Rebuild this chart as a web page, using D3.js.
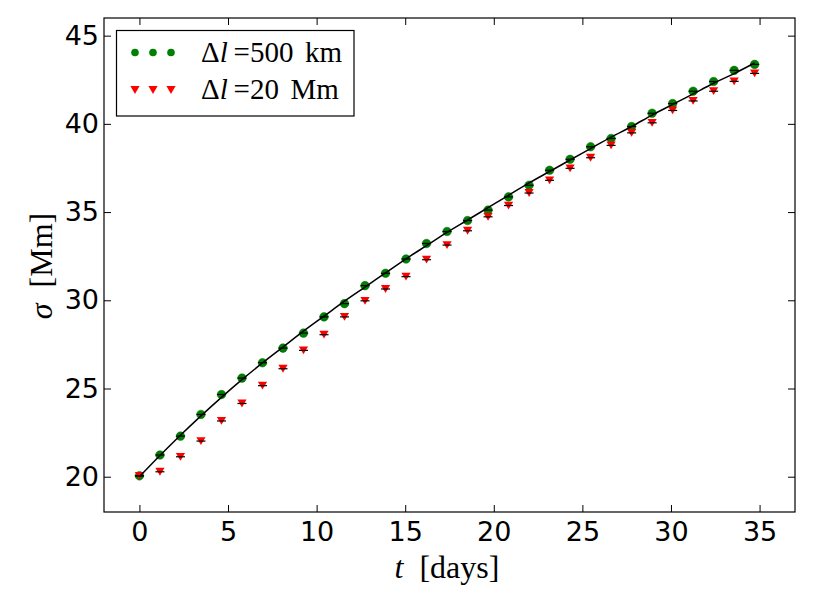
<!DOCTYPE html>
<html>
<head>
<meta charset="utf-8">
<script src="https://cdn.jsdelivr.net/npm/d3@7"></script>
<style>
  html, body { margin: 0; padding: 0; background: #fff; }
  svg { display: block; }
</style>
</head>
<body>
<svg id="chart" width="813" height="613"></svg>
<script>
// ---- data ----
const times = [0, 1.157, 2.315, 3.472, 4.63, 5.787, 6.944, 8.102, 9.259, 10.417, 11.574,
  12.731, 13.889, 15.046, 16.204, 17.361, 18.519, 19.676, 20.833, 21.991, 23.148,
  24.306, 25.463, 26.62, 27.778, 28.935, 30.093, 31.25, 32.407, 33.565, 34.722];
const sigma500km = [20.05, 21.23, 22.30, 23.53, 24.66, 25.59, 26.46, 27.29, 28.14, 29.06, 29.81,
  30.83, 31.53, 32.34, 33.22, 33.90, 34.52, 35.11, 35.86, 36.52, 37.37,
  37.99, 38.70, 39.17, 39.85, 40.60, 41.15, 41.85, 42.40, 43.03, 43.37];
const sigma20Mm = [20.05, 20.28, 21.13, 22.02, 23.16, 24.15, 25.16, 26.12, 27.16, 28.05, 29.06,
  29.97, 30.64, 31.34, 32.30, 33.13, 33.94, 34.73, 35.37, 36.08, 36.80,
  37.48, 38.08, 38.78, 39.49, 40.06, 40.76, 41.30, 41.85, 42.41, 42.86];
const sigmaModel = [20.0, 21.2, 22.35, 23.45, 24.5, 25.5, 26.45, 27.35, 28.25, 29.1, 29.95,
  30.75, 31.55, 32.35, 33.1, 33.85, 34.55, 35.25, 35.95, 36.65, 37.3,
  37.95, 38.6, 39.25, 39.85, 40.5, 41.1, 41.7, 42.3, 42.85, 43.45];
const xTicks = [0, 5, 10, 15, 20, 25, 30, 35];
const yTicks = [20, 25, 30, 35, 40, 45];
const seriesNames = ["500 km", "20 Mm"];

// ---- layout ----
const svg = d3.select("#chart");
const L = 104, R = 795, T = 18, B = 512;
const x = d3.scaleLinear().domain([-2, 37]).range([L, R]);
const y = d3.scaleLinear().domain([18, 46]).range([B, T]);
const tickFont = "'DejaVu Sans', sans-serif";
const mathFont = "'Liberation Serif', 'DejaVu Serif', serif";

// axes with inward ticks on all four sides
const tickLen = 7;
const fmt = d3.format("d");
function styleAxis(g) {
  g.select(".domain").remove();
  g.selectAll(".tick line").attr("stroke", "#000").attr("stroke-width", 1);
  g.selectAll(".tick text").attr("fill", "#000")
    .style("font-family", tickFont).style("font-size", "27px");
}
svg.append("g").attr("transform", `translate(0,${B})`)
  .call(d3.axisBottom(x).tickValues(xTicks).tickFormat(fmt).tickSizeInner(-tickLen).tickSizeOuter(0).tickPadding(10))
  .call(styleAxis);
svg.append("g").attr("transform", `translate(0,${T})`)
  .call(d3.axisTop(x).tickValues(xTicks).tickFormat("").tickSizeInner(-tickLen).tickSizeOuter(0))
  .call(styleAxis);
svg.append("g").attr("transform", `translate(${L},0)`)
  .call(d3.axisLeft(y).tickValues(yTicks).tickFormat(fmt).tickSizeInner(-tickLen).tickSizeOuter(0).tickPadding(5))
  .call(styleAxis);
svg.append("g").attr("transform", `translate(${R},0)`)
  .call(d3.axisRight(y).tickValues(yTicks).tickFormat("").tickSizeInner(-tickLen).tickSizeOuter(0))
  .call(styleAxis);

// clip for data
svg.append("clipPath").attr("id", "clip").append("rect")
  .attr("x", L).attr("y", T).attr("width", R - L).attr("height", B - T);
const plot = svg.append("g").attr("clip-path", "url(#clip)");

const tri = (cx, cy) => `M${cx - 4.6},${cy - 3.9}L${cx + 4.6},${cy - 3.9}L${cx},${cy + 3.9}Z`;

// green circles
plot.append("g").selectAll("circle").data(times).join("circle")
  .attr("cx", (d) => x(d)).attr("cy", (d, i) => y(sigma500km[i]))
  .attr("r", 4.3).attr("fill", "#008000").attr("stroke", "#007000").attr("stroke-width", 0.5);
// red triangles
plot.append("g").selectAll("path").data(times).join("path")
  .attr("d", (d, i) => tri(x(d), y(sigma20Mm[i])))
  .attr("fill", "#ff0000");
// model line
plot.append("path").datum(times)
  .attr("d", d3.line().x((d) => x(d)).y((d, i) => y(sigmaModel[i])).curve(d3.curveMonotoneX))
  .attr("fill", "none").attr("stroke", "#000").attr("stroke-width", 1.5);
// small black horizontal marks at each point
[sigma500km, sigma20Mm].forEach((s) => {
  plot.append("g").selectAll("line").data(times).join("line")
    .attr("x1", (d) => x(d) - 4.5).attr("x2", (d) => x(d) + 4.5)
    .attr("y1", (d, i) => y(s[i])).attr("y2", (d, i) => y(s[i]))
    .attr("stroke", "#000").attr("stroke-width", 1.2);
});

// frame
svg.append("rect").attr("x", L).attr("y", T).attr("width", R - L).attr("height", B - T)
  .attr("fill", "none").attr("stroke", "#000").attr("stroke-width", 1.2);

// axis labels
const xl = svg.append("text").attr("x", 447).attr("y", 578).attr("text-anchor", "middle")
  .style("font-family", mathFont).style("font-size", "32px").attr("fill", "#000");
xl.append("tspan").style("font-style", "italic").text("t");
xl.append("tspan").text("\u2002[days]");

const yl = svg.append("text").attr("transform", "translate(52,266) rotate(-90)")
  .attr("text-anchor", "middle")
  .style("font-family", mathFont).style("font-size", "32px").attr("fill", "#000");
yl.append("tspan").style("font-style", "italic").text("σ");
yl.append("tspan").text("\u2002[Mm]");

// legend
const lg = svg.append("g");
lg.append("rect").attr("x", 116.5).attr("y", 30.5).attr("width", 237.5).attr("height", 85.5)
  .attr("fill", "#fff").attr("stroke", "#000").attr("stroke-width", 1.2);
const rowsY = [52.5, 90];
const mx = [135, 153, 171];
mx.forEach((cx) => {
  lg.append("circle").attr("cx", cx).attr("cy", rowsY[0]).attr("r", 3.8).attr("fill", "#008000");
  lg.append("path").attr("d", tri(cx, rowsY[1])).attr("fill", "#ff0000");
});
seriesNames.forEach((name, i) => {
  const t = lg.append("text").attr("x", 201).attr("y", rowsY[i] + 9)
    .style("font-family", mathFont).style("font-size", "29px").attr("fill", "#000");
  t.append("tspan").text("Δ");
  t.append("tspan").style("font-style", "italic").text("l");
  t.append("tspan").text("\u2009=" + name.replace(" ", "\u2009\u2009"));
});
</script>
</body>
</html>
